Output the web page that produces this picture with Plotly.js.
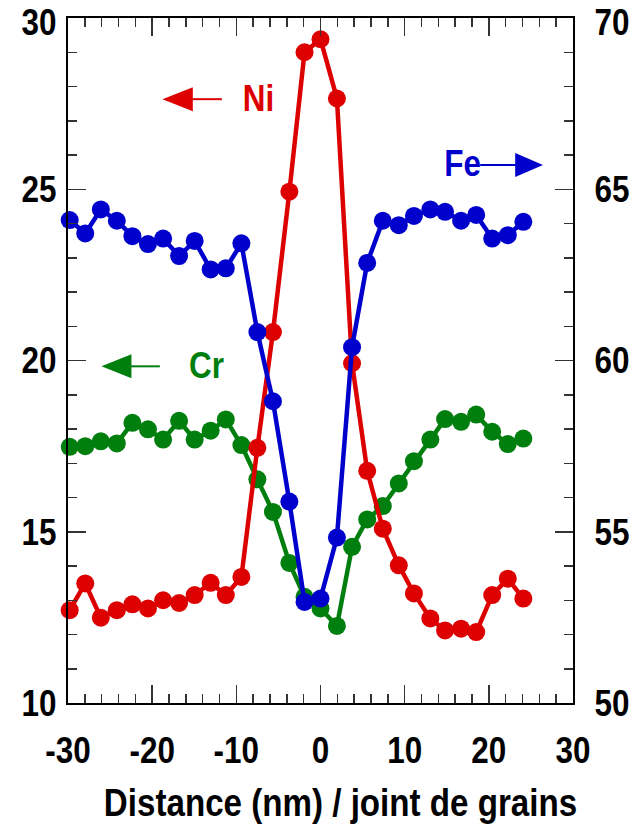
<!DOCTYPE html>
<html>
<head>
<meta charset="utf-8">
<script src="https://cdn.plot.ly/plotly-3.0.1.min.js"></script>
<style>html,body{margin:0;padding:0;background:#fff;}#chart{width:644px;height:830px;}</style>
</head>
<body>
<div id="chart"></div>
<script>
// Distance from grain boundary (nm)
const distance = [-29.8, -27.95, -26.1, -24.2, -22.35, -20.5, -18.7, -16.8, -14.95, -13.05, -11.25, -9.4, -7.5, -5.65, -3.7, -1.9, 0, 1.95, 3.75, 5.55, 7.4, 9.3, 11.1, 13.05, 14.8, 16.7, 18.5, 20.4, 22.25, 24.1];
// Ni (left axis)
const ni = [12.71, 13.49, 12.49, 12.71, 12.88, 12.76, 13.00, 12.92, 13.15, 13.51, 13.15, 13.68, 17.45, 20.83, 24.93, 29.00, 29.38, 27.65, 19.92, 16.78, 15.09, 14.02, 13.20, 12.47, 12.12, 12.17, 12.07, 13.15, 13.63, 13.05];
// Cr (left axis)
const cr = [17.48, 17.50, 17.64, 17.58, 18.18, 17.99, 17.69, 18.24, 17.69, 17.95, 18.28, 17.53, 16.53, 15.58, 14.09, 13.10, 12.76, 12.25, 14.56, 15.36, 15.75, 16.41, 17.06, 17.69, 18.29, 18.21, 18.42, 17.92, 17.56, 17.72];
// Fe (right axis)
const fe = [64.10, 63.71, 64.41, 64.08, 63.63, 63.40, 63.56, 63.05, 63.49, 62.66, 62.69, 63.42, 60.83, 58.81, 55.88, 52.95, 53.05, 54.83, 60.39, 62.85, 64.08, 63.95, 64.22, 64.41, 64.34, 64.08, 64.25, 63.56, 63.66, 64.05];

const xTickVals = [-30, -20, -10, 0, 10, 20, 30];
const xTickText = ['-30', '-20', '-10', '0', '10', '20', '30'];
const yTickVals = [10, 15, 20, 25, 30];
const y2TickVals = [50, 55, 60, 65, 70];
const xTitle = 'Distance (nm) / joint de grains';

const RED = '#dd0000', GREEN = '#007f0e', BLUE = '#0000cc';
const FONT = '"Liberation Sans", Arial, sans-serif';
const SQUEEZE = 0.85;

function tr(y, color, axis) {
  return {
    x: distance, y: y, yaxis: axis, type: 'scatter', mode: 'lines+markers',
    line: {color: color, width: 4.5}, marker: {color: color, size: 18},
    cliponaxis: false, showlegend: false, hoverinfo: 'skip'
  };
}

const data = [tr(cr, GREEN, 'y'), tr(ni, RED, 'y'), tr(fe, BLUE, 'y2')];

const tickFont = {family: FONT, size: 37, color: '#000', weight: 'bold'};
const minorTicks = {ticks: 'inside', ticklen: 9, tickcolor: '#333', tickwidth: 1.5};
const axCommon = {
  showline: true, linecolor: '#000', linewidth: 2, ticks: 'inside', ticklen: 18,
  tickwidth: 1.5, tickcolor: '#333', showgrid: false, zeroline: false,
  tickfont: tickFont, fixedrange: true, ticklabeloverflow: 'allow'
};

function tri(x0, x1, yc, h, color) {
  return {type: 'path', xref: 'x', yref: 'y', fillcolor: color, line: {width: 0},
    path: `M${x0},${yc} L${x1},${yc + h} L${x1},${yc - h} Z`};
}
function seg(x0, x1, y, color) {
  return {type: 'line', xref: 'x', yref: 'y', x0: x0, x1: x1, y0: y, y1: y, line: {color: color, width: 2}};
}

const layout = {
  width: 644, height: 830,
  margin: {l: 68, r: 71, t: 18, b: 127},
  paper_bgcolor: '#fff', plot_bgcolor: '#fff',
  xaxis: Object.assign({}, axCommon, {
    range: [-30, 30], tickvals: xTickVals, ticktext: xTickText, mirror: 'ticks',
    minor: Object.assign({dtick: 2}, minorTicks),
    ticklabelstandoff: 14,
    title: {text: xTitle, font: {family: FONT, size: 39, color: '#000', weight: 'bold'}, standoff: 18}
  }),
  yaxis: Object.assign({}, axCommon, {
    range: [10, 30], tickvals: yTickVals,
    minor: Object.assign({dtick: 1}, minorTicks),
    ticklabelstandoff: 2
  }),
  yaxis2: Object.assign({}, axCommon, {
    range: [50, 70], tickvals: y2TickVals, overlaying: 'y', side: 'right',
    minor: Object.assign({dtick: 1}, minorTicks),
    ticklabelstandoff: 12
  }),
  shapes: [
    tri(-18.78, -15.17, 27.63, 0.35, RED), seg(-15.3, -11.72, 27.63, RED),
    tri(26.44, 23.13, 25.71, 0.35, BLUE), seg(18.97, 23.3, 25.71, BLUE),
    tri(-26.03, -22.46, 19.83, 0.35, GREEN), seg(-22.6, -19.09, 19.83, GREEN)
  ],
  annotations: [
    {text: 'Ni', x: -7.41, y: 27.66, xref: 'x', yref: 'y', showarrow: false, font: {family: FONT, size: 37, color: RED, weight: 'bold'}},
    {text: 'Fe', x: 16.9, y: 25.75, xref: 'x', yref: 'y', showarrow: false, font: {family: FONT, size: 37, color: BLUE, weight: 'bold'}},
    {text: 'Cr', x: -13.5, y: 19.85, xref: 'x', yref: 'y', showarrow: false, font: {family: FONT, size: 37, color: GREEN, weight: 'bold'}}
  ]
};

// Narrow the bold lettering horizontally (the original uses a condensed face);
// the axis title sits a little right of the plot centre in the original;
// labels whose text box pokes above the page top are nudged down inside it.
function condense(gd) {
  const top = gd.getBoundingClientRect().top;
  const nodes = gd.querySelectorAll('.xtick text, .ytick text, .y2tick text, .g-xtitle text, .annotation-text-g text');
  nodes.forEach(t => {
    const bb = t.getBBox();
    const anchor = t.getAttribute('text-anchor') || 'start';
    const cx = anchor === 'end' ? bb.x + bb.width : (anchor === 'middle' ? bb.x + bb.width / 2 : bb.x);
    const tf = t.getAttribute('transform') || '';
    const over = top - t.getBoundingClientRect().top;
    const dy = over > 0 ? Math.ceil(over) + 1 : 0;
    const dx = t.closest('.g-xtitle') ? 20 : 0;
    t.setAttribute('transform', `translate(${dx},${dy}) ${tf} translate(${cx},0) scale(${SQUEEZE},1) translate(${-cx},0)`);
  });
}

Plotly.newPlot('chart', data, layout, {displayModeBar: false, staticPlot: true}).then(condense);
</script>
</body>
</html>
